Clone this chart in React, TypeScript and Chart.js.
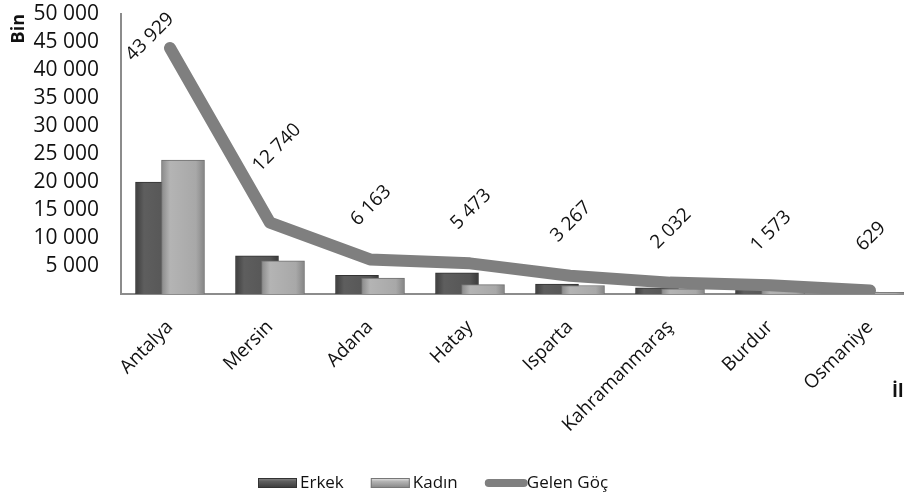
import React, { useEffect, useRef } from 'react';
import { Chart, registerables } from 'chart.js';

Chart.register(...registerables);

const categories = ['Antalya', 'Mersin', 'Adana', 'Hatay', 'Isparta', 'Kahramanmaraş', 'Burdur', 'Osmaniye'];
const erkek = [20000, 6800, 3340, 3800, 1750, 1100, 850, 330];
const kadin = [23929, 5940, 2823, 1673, 1517, 932, 723, 299];
const gelenGoc = [43929, 12740, 6163, 5473, 3267, 2032, 1573, 629];
const seriesNames = ['Erkek', 'Kadın', 'Gelen Göç'];
const yTitle = 'Bin';
const xTitle = 'İl';
const yMax = 50000;
const yStep = 5000;

const FONT = "'Open Sans', 'DejaVu Sans', sans-serif";
const TEXT = '#111111';
const AXIS = '#8c8c8c';
const LINE_COLOR = '#7f7f7f';
const ERKEK_STOPS = ['#3e3e3e', '#5e5e5e', '#555555', '#3a3a3a'];
const KADIN_STOPS = ['#8a8a8a', '#b4b4b4', '#a8a8a8', '#858585'];
const BAR_W = 43;
const BAR_SHIFT = 0.13;

const fmt = (v: number) => String(Math.round(v)).replace(/\B(?=(\d{3})+(?!\d))/g, ' ');

const barGradient = (stops: string[]) => (c: any) => {
  const chart = c.chart;
  const xs = chart.scales && chart.scales.x;
  if (!xs || c.type !== 'data' || !c.raw) return stops[1];
  const cx = xs.getPixelForValue(c.raw.x);
  if (!isFinite(cx)) return stops[1];
  const g = chart.ctx.createLinearGradient(cx - BAR_W / 2, 0, cx + BAR_W / 2, 0);
  g.addColorStop(0, stops[0]);
  g.addColorStop(0.2, stops[1]);
  g.addColorStop(0.8, stops[2]);
  g.addColorStop(1, stops[3]);
  return g;
};

// label nudges for the Gelen Göç value labels (px, relative to the point)
const labelNudge: Record<number, [number, number]> = { 0: [-20, -11], 1: [7, -75] };
const defaultNudge: [number, number] = [1, -54];

const valueLabels = {
  id: 'valueLabels',
  afterDatasetsDraw(chart: any) {
    const meta = chart.getDatasetMeta(0);
    const ctx = chart.ctx;
    ctx.save();
    ctx.font = `19px ${FONT}`;
    ctx.fillStyle = TEXT;
    ctx.textAlign = 'center';
    ctx.textBaseline = 'middle';
    meta.data.forEach((pt: any, i: number) => {
      const [dx, dy] = labelNudge[i] || defaultNudge;
      ctx.save();
      ctx.translate(pt.x + dx, pt.y + dy);
      ctx.rotate(-Math.PI / 4);
      ctx.fillText(fmt(gelenGoc[i]), 0, 0);
      ctx.restore();
    });
    ctx.restore();
  },
};

const customLegend = {
  id: 'customLegend',
  afterDraw(chart: any) {
    const ctx = chart.ctx;
    const cy = chart.height - 16;
    let x = 258;
    ctx.save();
    ctx.font = `17px ${FONT}`;
    ctx.textBaseline = 'middle';
    ctx.textAlign = 'left';
    seriesNames.forEach((name, k) => {
      if (k < 2) {
        const stops = k === 0 ? ERKEK_STOPS : KADIN_STOPS;
        const g = ctx.createLinearGradient(0, cy - 5, 0, cy + 5);
        g.addColorStop(0, k === 0 ? '#888' : '#e8e8e8');
        g.addColorStop(0.35, stops[1]);
        g.addColorStop(1, stops[3]);
        ctx.fillStyle = g;
        ctx.fillRect(x, cy - 5, 39, 10);
        ctx.strokeStyle = k === 0 ? '#333' : '#777';
        ctx.lineWidth = 1;
        ctx.strokeRect(x + 0.5, cy - 4.5, 38, 9);
      } else {
        ctx.strokeStyle = LINE_COLOR;
        ctx.lineWidth = 8;
        ctx.lineCap = 'round';
        ctx.beginPath();
        ctx.moveTo(x + 4, cy);
        ctx.lineTo(x + 39, cy);
        ctx.stroke();
      }
      ctx.fillStyle = TEXT;
      ctx.fillText(name, x + 42, cy);
      x += 42 + ctx.measureText(name).width + 27;
    });
    // x axis title
    ctx.font = `bold 18px ${FONT}`;
    ctx.textBaseline = 'alphabetic';
    ctx.fillText(xTitle, chart.width - 12, 397);
    ctx.restore();
  },
};

export default function App() {
  const ref = useRef<HTMLCanvasElement>(null);
  useEffect(() => {
    if (!ref.current) return;
    const chart = new Chart(ref.current, {
      type: 'bar',
      data: {
        datasets: [
          {
            type: 'line',
            label: seriesNames[2],
            data: gelenGoc.map((v, i) => ({ x: i, y: v })),
            borderColor: LINE_COLOR,
            backgroundColor: LINE_COLOR,
            borderWidth: 12,
            pointRadius: 0,
            borderCapStyle: 'round',
            borderJoinStyle: 'round',
            tension: 0,
            order: 0,
          } as any,
          {
            type: 'bar',
            label: seriesNames[1],
            data: kadin.map((v, i) => ({ x: i + BAR_SHIFT, y: v })),
            backgroundColor: barGradient(KADIN_STOPS),
            borderColor: '#6e6e6e',
            borderWidth: 1,
            barThickness: BAR_W,
            grouped: false,
            order: 1,
          } as any,
          {
            type: 'bar',
            label: seriesNames[0],
            data: erkek.map((v, i) => ({ x: i - BAR_SHIFT, y: v })),
            backgroundColor: barGradient(ERKEK_STOPS),
            borderColor: '#333333',
            borderWidth: 1,
            barThickness: BAR_W,
            grouped: false,
            order: 2,
          } as any,
        ],
      },
      options: {
        responsive: false,
        animation: false,
        layout: { padding: { top: 14, right: 0, bottom: 35, left: 0 } },
        plugins: {
          legend: { display: false },
          tooltip: { enabled: false },
        },
        scales: {
          x: {
            type: 'linear',
            offset: false,
            min: -0.49,
            max: 7.34,
            afterBuildTicks: (axis: any) => {
              axis.ticks = categories.map((_, i) => ({ value: i }));
            },
            afterFit: (s: any) => {
              s.height = 170;
              s.paddingLeft = 0;
              s.paddingRight = 0;
            },
            ticks: {
              callback: (v: any) => categories[v] ?? '',
              minRotation: 45,
              maxRotation: 45,
              autoSkip: false,
              padding: 22,
              color: TEXT,
              font: { family: FONT, size: 19 },
            },
            grid: { display: false, drawTicks: false },
            border: { display: true, color: AXIS, width: 2 },
          },
          y: {
            min: 0,
            max: yMax,
            afterFit: (s: any) => {
              s.width = 121;
              s.paddingTop = 0;
              s.paddingBottom = 0;
            },
            ticks: {
              stepSize: yStep,
              autoSkip: false,
              callback: (v: any) => (v === 0 ? '' : fmt(v)),
              padding: 22,
              color: TEXT,
              font: { family: FONT, size: 21 },
            },
            grid: { display: false, drawTicks: false },
            border: { display: true, color: AXIS, width: 2 },
            title: {
              display: true,
              text: yTitle,
              align: 'end',
              color: TEXT,
              padding: { top: 8, bottom: 0 },
              font: { family: FONT, size: 18, weight: 'bold' },
            },
          },
        },
      },
      plugins: [valueLabels, customLegend],
    } as any);
    return () => chart.destroy();
  }, []);
  return (
    <div style={{ position: 'fixed', left: 0, top: 0, width: 904, height: 499, background: '#fff', overflow: 'hidden' }}>
      <canvas ref={ref} width={904} height={499} style={{ display: 'block', width: 904, height: 499 }} />
    </div>
  );
}
